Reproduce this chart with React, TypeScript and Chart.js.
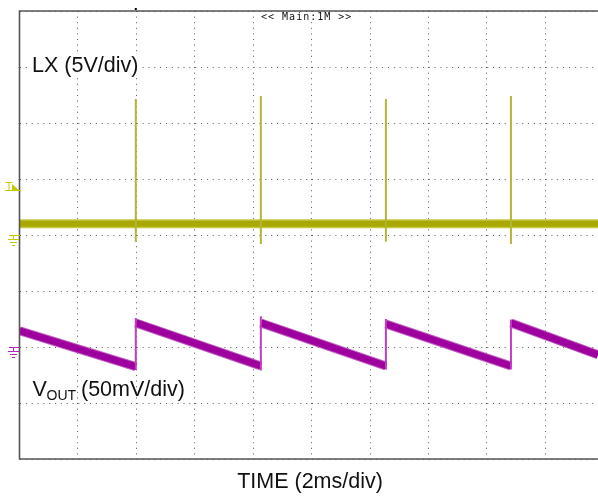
import React, { useEffect, useRef } from "react";
import { Chart, registerables } from "chart.js";

Chart.register(...registerables);

// Axis extents in scope divisions (10 x 8 grid, right edge cut off by the window)
const xVisibleDivs = 9.9;
const yDivs = 8;

// LX trace (5V/div): flat level with switching spikes
const lxLevel = 4.2;
const spikeTimes = [1.99, 4.13, 6.27, 8.41];
const spikeHigh = [6.43, 6.48, 6.43, 6.48];
const spikeLow = [3.88, 3.84, 3.88, 3.84];

// VOUT trace (50mV/div): sawtooth ramps
const rampStartTimes = [0, 1.99, 4.13, 6.27, 8.41];
const rampEndTimes = [1.99, 4.13, 6.27, 8.41, 9.9];
const rampStartValues = [2.29, 2.43, 2.43, 2.41, 2.43];
const rampEndValues = [1.65, 1.66, 1.66, 1.66, 1.86];
const jumpLow = [1.59, 1.58, 1.6, 1.6];
const jumpHigh = [2.52, 2.55, 2.5, 2.49];

const lxLabel = "LX (5V/div)";
const voutMain = "V";
const voutSub = "OUT";
const voutRest = "(50mV/div)";
const timeLabel = "TIME (2ms/div)";
const topLabel = "<< Main:1M >>";

type P = { x: number; y: number | null };

function verticals(times: number[], lo: number[], hi: number[]): P[] {
  const out: P[] = [];
  times.forEach((t, i) => {
    out.push({ x: t, y: lo[i] });
    out.push({ x: t, y: hi[i] });
    out.push({ x: t, y: null });
  });
  return out;
}

function ramps(): P[] {
  const out: P[] = [];
  rampStartTimes.forEach((t, i) => {
    out.push({ x: t, y: rampStartValues[i] });
    out.push({ x: rampEndTimes[i], y: rampEndValues[i] });
    out.push({ x: rampEndTimes[i], y: null });
  });
  return out;
}

const FONT = "'Liberation Sans', Arial, sans-serif";

const overlayPlugin = {
  id: "scopeOverlay",
  afterDraw(chart: any) {
    const { ctx, chartArea } = chart;
    const { left, right, top, bottom } = chartArea;
    const xs = chart.scales.x;
    ctx.save();

    // frame (left, top, bottom)
    ctx.strokeStyle = "#555";
    ctx.lineWidth = 1.6;
    ctx.beginPath();
    ctx.moveTo(right + 2, top);
    ctx.lineTo(left, top);
    ctx.lineTo(left, bottom);
    ctx.lineTo(right + 2, bottom);
    ctx.stroke();

    // trigger position mark on top border
    ctx.fillStyle = "#000";
    ctx.fillRect(xs.getPixelForValue(spikeTimes[0]) - 1, top - 3, 2, 2);

    // top label
    ctx.font = "10px 'DejaVu Sans Mono'";
    (ctx as any).letterSpacing = "1px";
    const tw = ctx.measureText(topLabel).width;
    const cx = xs.getPixelForValue(5) - 5;
    ctx.fillStyle = "#fff";
    ctx.fillRect(cx - tw / 2 - 3, top + 1, tw + 6, 10);
    ctx.fillStyle = "#111";
    ctx.textBaseline = "alphabetic";
    ctx.textAlign = "left";
    ctx.fillText(topLabel, cx - tw / 2, top + 9);
    (ctx as any).letterSpacing = "0px";

    // LX label
    ctx.font = "21.5px " + FONT;
    const lw = ctx.measureText(lxLabel).width;
    ctx.fillStyle = "#fff";
    ctx.fillRect(left + 11, 53, lw + 4, 24);
    ctx.fillStyle = "#111";
    ctx.fillText(lxLabel, left + 12.5, 72);

    // VOUT label
    ctx.fillText(voutMain, 32.5, 396);
    ctx.font = "14px " + FONT;
    ctx.fillText(voutSub, 46.5, 399.5);
    ctx.font = "21.5px " + FONT;
    ctx.fillText(voutRest, 81, 396);

    // time label
    ctx.textAlign = "center";
    ctx.fillText(timeLabel, 310, 488);

    // left-side markers
    const yel = "#c8c800";
    ctx.strokeStyle = yel;
    ctx.fillStyle = yel;
    ctx.lineWidth = 1;
    const ty = 190.5;
    ctx.beginPath();
    ctx.moveTo(5.5, 182.5);
    ctx.lineTo(12.5, 182.5);
    ctx.moveTo(9, 182.5);
    ctx.lineTo(9, ty);
    ctx.moveTo(5, ty);
    ctx.lineTo(21, ty);
    ctx.stroke();
    ctx.beginPath();
    ctx.moveTo(12, 184);
    ctx.lineTo(19.5, ty);
    ctx.lineTo(12, ty);
    ctx.closePath();
    ctx.fill();

    const ground = (gy: number, color: string) => {
      ctx.strokeStyle = color;
      ctx.lineWidth = 1;
      ctx.beginPath();
      ctx.moveTo(9, gy + 0.5);
      ctx.lineTo(20, gy + 0.5);
      ctx.moveTo(13.5, gy);
      ctx.lineTo(13.5, gy + 4);
      ctx.moveTo(8, gy + 4.5);
      ctx.lineTo(19, gy + 4.5);
      ctx.moveTo(10, gy + 7.5);
      ctx.lineTo(17, gy + 7.5);
      ctx.moveTo(12, gy + 10.5);
      ctx.lineTo(15, gy + 10.5);
      ctx.stroke();
    };
    ground(235, yel);
    ground(347, "#c020c0");

    ctx.restore();
  },
};

export default function App() {
  const ref = useRef<HTMLCanvasElement | null>(null);

  useEffect(() => {
    if (!ref.current) return;
    const chart = new Chart(ref.current, {
      type: "line",
      data: {
        datasets: [
          {
            data: verticals(spikeTimes, spikeLow, spikeHigh) as any,
            borderColor: "#b4b43a",
            borderWidth: 2,
            pointRadius: 0,
            spanGaps: false,
          },
          {
            data: [
              { x: 0, y: lxLevel },
              { x: xVisibleDivs, y: lxLevel },
            ] as any,
            borderColor: "#a8a800",
            borderWidth: 6,
            pointRadius: 0,
          },
          {
            data: [
              { x: 0, y: lxLevel },
              { x: xVisibleDivs, y: lxLevel },
            ] as any,
            borderColor: "#c6c640",
            borderWidth: 9,
            pointRadius: 0,
          },
          {
            data: verticals(spikeTimes, jumpLow, jumpHigh) as any,
            borderColor: "#c03cc0",
            borderWidth: 2,
            pointRadius: 0,
            spanGaps: false,
          },
          {
            data: ramps() as any,
            borderColor: "#9e009e",
            borderWidth: 7,
            pointRadius: 0,
            spanGaps: false,
          },
          {
            data: ramps() as any,
            borderColor: "#c060c0",
            borderWidth: 9,
            pointRadius: 0,
            spanGaps: false,
          },
        ],
      },
      options: {
        responsive: false,
        animation: false,
        events: [],
        layout: { padding: { left: 19.5, right: 0, top: 11, bottom: 39 } },
        plugins: { legend: { display: false }, tooltip: { enabled: false } },
        scales: {
          x: {
            type: "linear",
            min: 0,
            max: xVisibleDivs,
            ticks: { display: false, stepSize: 1, includeBounds: false },
            grid: { color: "#5a5a5a", lineWidth: 1, drawTicks: false },
            border: { display: false, dash: [1, 4.6] },
          },
          y: {
            type: "linear",
            min: 0,
            max: yDivs,
            ticks: { display: false, stepSize: 1, includeBounds: false },
            grid: { color: "#5a5a5a", lineWidth: 1, drawTicks: false },
            border: { display: false, dash: [1, 4.84] },
          },
        },
      },
      plugins: [overlayPlugin],
    });
    return () => chart.destroy();
  }, []);

  return (
    <div style={{ position: "fixed", left: 0, top: 0, width: 598, height: 498, background: "#fff" }}>
      <canvas ref={ref} width={598} height={498} style={{ display: "block" }} />
    </div>
  );
}
